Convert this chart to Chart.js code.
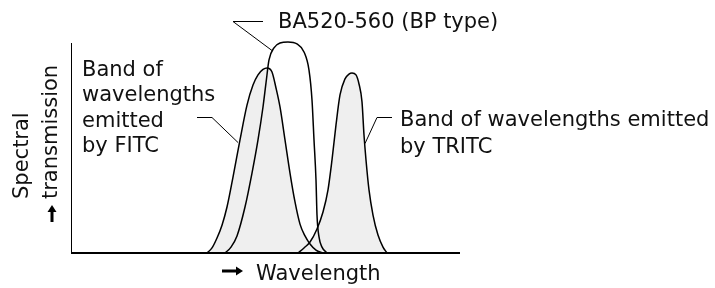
<!DOCTYPE html>
<html>
<head>
<meta charset="utf-8">
<script src="https://cdn.jsdelivr.net/npm/chart.js@4.4.1/dist/chart.umd.min.js"></script>
<style>
  html, body { margin:0; padding:0; background:#fff; }
  #c { display:block; }
</style>
</head>
<body>
<canvas id="c" width="715" height="288"></canvas>
<script>
// spectral curves, x = relative wavelength units, y = transmission %
const fitcX = [136,141,146,151,156,162,169,176,182,187,192,196,201,205,209,214,219,224,229,234,239,245,252];
const fitcY = [0,2.4,7.1,13.2,21.8,36.0,53.6,70.1,79.6,84.4,87.0,87.7,85.8,78.2,69.2,53.6,37.9,24.2,13.7,8.1,4.3,1.4,0];

const baX = [154,160,166,174,181,187,192,195,198,203,209,217,226,233,238,241,243,245,246,248,251,256];
const baY = [0,2.8,8.1,21.8,37.9,53.6,69.2,80.6,91.5,97.2,99.5,100,99.1,95.3,86.7,72.5,53.6,34.6,18.0,7.6,2.8,0];

const tritcX = [227,233,239,246,252,257,261,265,269,274,278,281,285,288,291,293,295,298,302,307,312,316];
const tritcY = [0,2.4,5.2,11.4,19.4,29.9,44.1,60.7,74.9,82.5,84.8,85.3,84.4,80.1,71.6,55.9,44.1,29.9,18.0,8.5,2.8,0];

// leader lines: [start, elbow, end on curve] in data units
const baLeader = [[192,110],[162,110],[201,96.2]];
const fitcLeader = [[126,64.5],[141,64.5],[167,52.6]];
const tritcLeader = [[321,64.5],[306,64.5],[294,52.1]];

const FONT = "21px 'DejaVu Sans', Verdana, sans-serif";

function pts(xs, ys){ return xs.map((x,i)=>({x, y: ys[i]})); }

const extras = {
  id: "extras",
  afterDraw(chart){
    const ctx = chart.ctx;
    const a = chart.chartArea;
    const sx = chart.scales.x, sy = chart.scales.y;
    ctx.save();

    // axes
    ctx.strokeStyle = "#000";
    ctx.lineWidth = 1;
    ctx.beginPath();
    ctx.moveTo(a.left + 0.5, a.top + 1);
    ctx.lineTo(a.left + 0.5, a.bottom);
    ctx.stroke();
    ctx.lineWidth = 2;
    ctx.beginPath();
    ctx.moveTo(a.left, a.bottom);
    ctx.lineTo(a.right, a.bottom);
    ctx.stroke();

    // leaders
    ctx.lineWidth = 1;
    for (const L of [baLeader, fitcLeader, tritcLeader]){
      ctx.beginPath();
      L.forEach((p,i)=>{
        const px = sx.getPixelForValue(p[0]), py = Math.round(sy.getPixelForValue(p[1])) + 0.5;
        if (i===0) ctx.moveTo(px, py); else ctx.lineTo(px, py);
      });
      ctx.stroke();
    }

    // labels
    ctx.fillStyle = "#111";
    ctx.font = FONT;
    ctx.textAlign = "left";
    ctx.textBaseline = "alphabetic";
    ctx.fillText("BA520-560 (BP type)", 278, 28);
    ["Band of","wavelengths","emitted","by FITC"].forEach((t,i)=> ctx.fillText(t, 82, 76 + i*25.4));
    ctx.fillText("Band of wavelengths emitted", 400, 126);
    ctx.fillText("by TRITC", 400, 153);
    ctx.fillText("Wavelength", 256, 280);

    // y title, rotated
    ctx.save();
    ctx.translate(28, 199); ctx.rotate(-Math.PI/2);
    ctx.fillText("Spectral", 0, 0);
    ctx.restore();
    ctx.save();
    ctx.translate(57, 199); ctx.rotate(-Math.PI/2);
    ctx.fillText("transmission", 0, 0);
    ctx.restore();

    // arrows
    ctx.fillStyle = "#000";
    ctx.beginPath();
    ctx.moveTo(52, 205); ctx.lineTo(56.5, 212); ctx.lineTo(47.5, 212); ctx.closePath(); ctx.fill();
    ctx.fillRect(50.5, 211, 3, 11);
    ctx.beginPath();
    ctx.moveTo(243, 271); ctx.lineTo(236, 266.5); ctx.lineTo(236, 275.5); ctx.closePath(); ctx.fill();
    ctx.fillRect(222, 269.5, 15, 3);

    ctx.restore();
  }
};

const curve = (data, fill) => ({
  data,
  borderColor: "#000",
  borderWidth: 1.5,
  backgroundColor: "#efefef",
  fill: fill ? "origin" : false,
  pointRadius: 0,
  cubicInterpolationMode: "monotone",
  clip: false
});

new Chart(document.getElementById("c"), {
  type: "line",
  data: {
    datasets: [
      curve(pts(fitcX, fitcY), true),
      curve(pts(tritcX, tritcY), true),
      curve(pts(baX, baY), false)
    ]
  },
  options: {
    responsive: false,
    animation: false,
    devicePixelRatio: 1,
    layout: { padding: { left: 71, top: 42, right: 255, bottom: 35 } },
    scales: {
      x: { type: "linear", min: 0, max: 389, display: false },
      y: { min: 0, max: 100, display: false }
    },
    plugins: {
      legend: { display: false },
      tooltip: { enabled: false },
      filler: { drawTime: "beforeDatasetsDraw" }
    }
  },
  plugins: [extras]
});
</script>
</body>
</html>
